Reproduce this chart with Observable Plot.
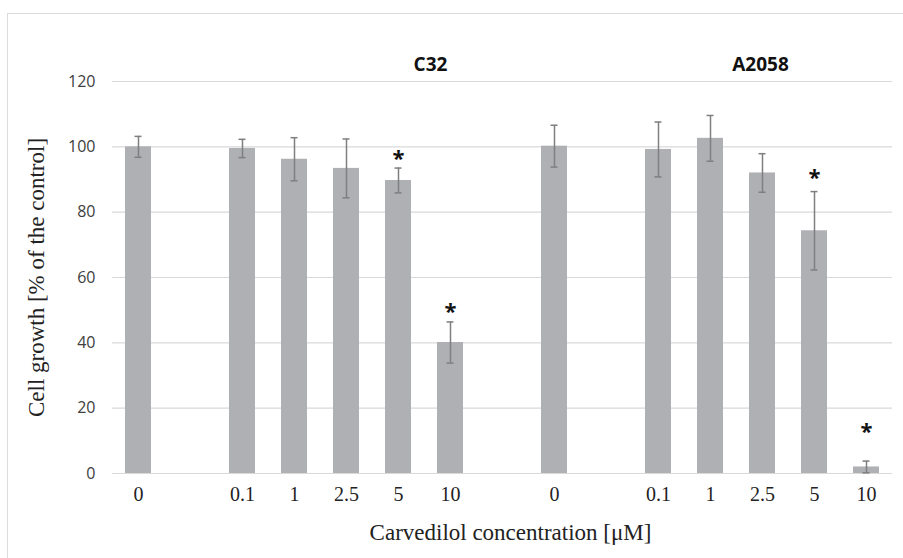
<!DOCTYPE html>
<html>
<head>
<meta charset="utf-8">
<script src="https://cdn.jsdelivr.net/npm/d3@7"></script>
<script src="https://cdn.jsdelivr.net/npm/@observablehq/plot@0.6"></script>
<style>
  html, body { margin: 0; padding: 0; background: #fff; }
  #wrap { position: relative; width: 903px; height: 558px; overflow: hidden; }
  #frame { position: absolute; left: 7px; top: 13px; width: 1000px; height: 1000px; border: 1.5px solid #dcdcdc; box-sizing: border-box; }
  #chart { position: absolute; left: 0; top: 0; }
</style>
</head>
<body>
<div id="wrap"><div id="frame"></div><div id="chart"></div></div>
<script>
// ---- data ----
const concentrations = ["0", "0.1", "1", "2.5", "5", "10"];
const cellLines = ["C32", "A2058"];
const c32Values   = [100.0, 99.5, 96.2, 93.4, 89.7, 40.1];
const c32Errors   = [3.2, 2.8, 6.6, 9.0, 3.8, 6.3];
const c32StarY    = [null, null, null, null, 97.3, 50.5];
const a2058Values = [100.2, 99.2, 102.6, 92.0, 74.3, 2.0];
const a2058Errors = [6.4, 8.4, 7.0, 5.9, 12.0, 1.8];
const a2058StarY  = [null, null, null, null, 91.4, 13.6];
const xDomain = ["C32 0", "gap 1", "C32 0.1", "C32 1", "C32 2.5", "C32 5", "C32 10", "gap 2",
                 "A2058 0", "gap 3", "A2058 0.1", "A2058 1", "A2058 2.5", "A2058 5", "A2058 10"];
const yTicks = [0, 20, 40, 60, 80, 100, 120];
const xLabel = "Carvedilol concentration [μM]";
const yLabel = "Cell growth [% of the control]";

// ---- build rows ----
const rows = [];
concentrations.forEach((c, i) => rows.push({key: `C32 ${c}`, value: c32Values[i], err: c32Errors[i], star: c32StarY[i]}));
concentrations.forEach((c, i) => rows.push({key: `A2058 ${c}`, value: a2058Values[i], err: a2058Errors[i], star: a2058StarY[i]}));
const stars = rows.filter(d => d.star != null);

const barColor = "#afb0b4";
const errColor = "#7f7f7f";
const serif = "'Liberation Serif', 'Times New Roman', serif";
const sans = "'Open Sans', 'Noto Sans', sans-serif";

const chart = Plot.plot({
  width: 903,
  height: 558,
  marginLeft: 112,
  marginRight: 11,
  marginTop: 81,
  marginBottom: 85,
  style: {background: "transparent", overflow: "visible"},
  x: {domain: xDomain, paddingInner: 0.5, paddingOuter: 0.25, axis: null},
  y: {domain: [0, 120], axis: null},
  marks: [
    Plot.ruleY(yTicks, {stroke: "#d9d9d9", strokeWidth: 1.2}),
    Plot.barY(rows, {x: "key", y: "value", fill: barColor}),
    Plot.ruleX(rows, {x: "key", y1: d => d.value - d.err, y2: d => d.value + d.err, stroke: errColor, strokeWidth: 1.5}),
    Plot.tickY(rows, {x: "key", y: d => d.value + d.err, stroke: errColor, strokeWidth: 1.5, insetLeft: 9.5, insetRight: 9.5}),
    Plot.tickY(rows, {x: "key", y: d => Math.max(0, d.value - d.err), stroke: errColor, strokeWidth: 1.5, insetLeft: 9.5, insetRight: 9.5}),
    Plot.text(stars, {x: "key", y: "star", text: () => "*", fontSize: 22, fontWeight: "bold", fontFamily: sans, fill: "#111", lineAnchor: "middle", dy: 3}),
    Plot.axisY({ticks: yTicks, tickSize: 0, tickPadding: 17, fontSize: 16, fontFamily: sans, fill: "#404040", label: null}),
    Plot.axisX({tickSize: 0, tickPadding: 13, fontSize: 20, fontFamily: serif, fill: "#222",
                tickFormat: k => k.startsWith("gap") ? "" : k.split(" ")[1], label: null}),
    Plot.text([cellLines[0]], {x: () => "C32 5", y: () => 120, text: d => d, dx: 32, dy: -17, fontSize: 19, fontWeight: "bold", fontFamily: sans, fill: "#111", lineAnchor: "middle"}),
    Plot.text([cellLines[1]], {x: () => "A2058 2.5", y: () => 120, text: d => d, dx: -2, dy: -17, fontSize: 19, fontWeight: "bold", fontFamily: sans, fill: "#111", lineAnchor: "middle"}),
    Plot.text([xLabel], {frameAnchor: "bottom", text: d => d, textAnchor: "middle", dx: 8, dy: 59, fontSize: 23, fontFamily: serif, fill: "#222", lineAnchor: "middle"}),
    Plot.text([yLabel], {frameAnchor: "left", text: d => d, textAnchor: "middle", rotate: -90, dx: -76, fontSize: 23, fontFamily: serif, fill: "#222", lineAnchor: "middle"})
  ]
});
document.getElementById("chart").appendChild(chart);
</script>
</body>
</html>
